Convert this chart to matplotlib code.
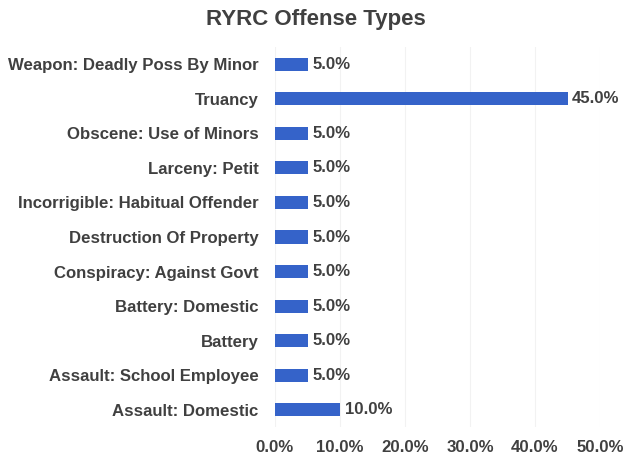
import matplotlib
matplotlib.use("Agg")
import matplotlib.pyplot as plt
from matplotlib.ticker import FuncFormatter

categories = ["Weapon: Deadly Poss By Minor", "Truancy", "Obscene: Use of Minors",
              "Larceny: Petit", "Incorrigible: Habitual Offender", "Destruction Of Property",
              "Conspiracy: Against Govt", "Battery: Domestic", "Battery",
              "Assault: School Employee", "Assault: Domestic"]
values = [5.0, 45.0, 5.0, 5.0, 5.0, 5.0, 5.0, 5.0, 5.0, 5.0, 10.0]
xticks = [0, 10, 20, 30, 40, 50]

plt.rcParams['font.family'] = ['Liberation Sans', 'DejaVu Sans']
W, H = 632, 462
fig = plt.figure(figsize=(W/100, H/100), dpi=100)
ax = fig.add_axes([275/W, 1-427/H, (600-275)/W, (427-47)/H])

FS = 12.1
TC = "#404040"
y = list(range(len(categories)))
ax.barh(y, values, height=0.38, color="#3563c9", edgecolor="none", zorder=3)
for yi, v in zip(y, values):
    ax.text(v + 0.7, yi, f"{v:.1f}%", va="center", ha="left", fontsize=FS,
            fontweight="bold", color=TC)
ax.set_yticks(y)
ax.set_yticklabels(categories, fontsize=FS, fontweight="bold", color=TC)
ax.set_ylim(len(categories)-0.5, -0.5)
ax.set_xlim(0, 50)
ax.set_xticks(xticks)
ax.xaxis.set_major_formatter(FuncFormatter(lambda v, p: f"{v:.1f}%"))
for lab in ax.get_xticklabels():
    lab.set_fontweight("bold")
    lab.set_fontsize(FS)
    lab.set_color(TC)
ax.tick_params(axis="y", length=0, pad=12)
ax.tick_params(axis="x", length=0, pad=9)
ax.grid(axis="x", color="#f2f2f2", linewidth=0.8, zorder=0)
for s in ax.spines.values():
    s.set_visible(False)
fig.text(0.5, 1-20/H, "RYRC Offense Types", ha="center", va="center",
         fontsize=16, fontweight="bold", color=TC)
fig.savefig("out.png", dpi=100, facecolor="white")
